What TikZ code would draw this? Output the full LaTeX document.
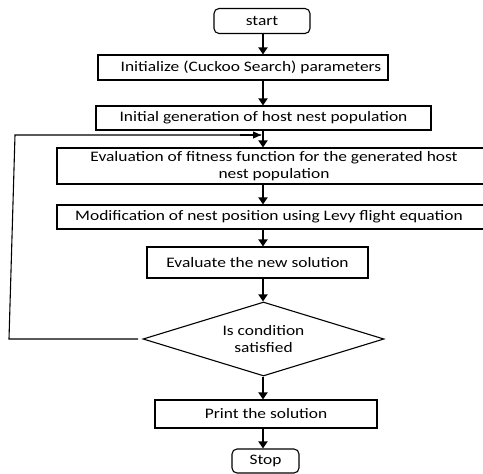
\documentclass[tikz,border=0pt]{standalone}
\usepackage{fontspec}
\setmainfont[FakeStretch=1.2]{Carlito}
\usetikzlibrary{shapes.geometric,arrows.meta}
\begin{document}
\begin{tikzpicture}[x=1pt,y=-1pt,
  font=\fontsize{14.5}{17}\selectfont,
  box/.style={draw,line width=1.1pt,inner sep=0pt,align=center},
  term/.style={box,rounded corners=5pt},
  flow/.style={line width=2pt,-{Triangle[length=7pt,width=9pt]}},
  loopline/.style={line width=1.1pt}]
\useasboundingbox (0,0) rectangle (483,474);
\node[term,minimum width=96pt,minimum height=25pt] (start) at (262,21) {start};
\node[box,minimum width=290pt,minimum height=25pt] (init) at (243,67.5) {\hspace*{16pt}Initialize (Cuckoo Search) parameters};
\node[box,minimum width=335pt,minimum height=24pt] (gen) at (263.5,118) {Initial generation of host nest population};
\node[box,minimum width=428pt,minimum height=36pt] (eval) at (271,166) {\hspace*{6pt}Evaluation of fitness function for the generated host\\\hspace*{6pt}nest population};
\node[box,minimum width=428pt,minimum height=24pt] (mod) at (271,217) {Modification of nest position using Levy flight equation\hspace*{4pt}};
\node[box,minimum width=221pt,minimum height=31pt] (evn) at (257.5,262.5) {Evaluate the new solution};
\node[draw,line width=1.1pt,shape=diamond,aspect=3.26,inner sep=0pt,minimum width=241pt,minimum height=74pt,align=center] (dia) at (263.5,339) {Is condition\\satisfied};
\node[box,minimum width=222pt,minimum height=28pt] (prn) at (266,414) {Print the solution};
\node[term,minimum width=67pt,minimum height=24pt] (stop) at (265.5,461) {Stop};
\coordinate (ax) at (263,0);
\draw[flow] (start.south -| ax) -- (init.north -| ax);
\draw[flow] (init.south -| ax) -- (gen.north -| ax);
\draw[flow] (gen.south -| ax) -- (eval.north -| ax);
\draw[flow] (eval.south -| ax) -- (mod.north -| ax);
\draw[flow] (mod.south -| ax) -- (evn.north -| ax);
\draw[flow] (evn.south -| ax) -- (dia.north -| ax);
\draw[flow] (dia.south -| ax) -- (prn.north -| ax);
\draw[flow] (prn.south -| ax) -- (stop.north -| ax);
\coordinate (l0) at (138,339);
\coordinate (l1) at (9,339);
\coordinate (l2) at (15,135);
\coordinate (l3) at (261,135);
\draw[loopline] (l0) -- (l1) -- (l2) -- (l3);
\draw[loopline,-{Triangle[length=8pt,width=7pt]}] (240,135) -- (l3);
\end{tikzpicture}
\end{document}
